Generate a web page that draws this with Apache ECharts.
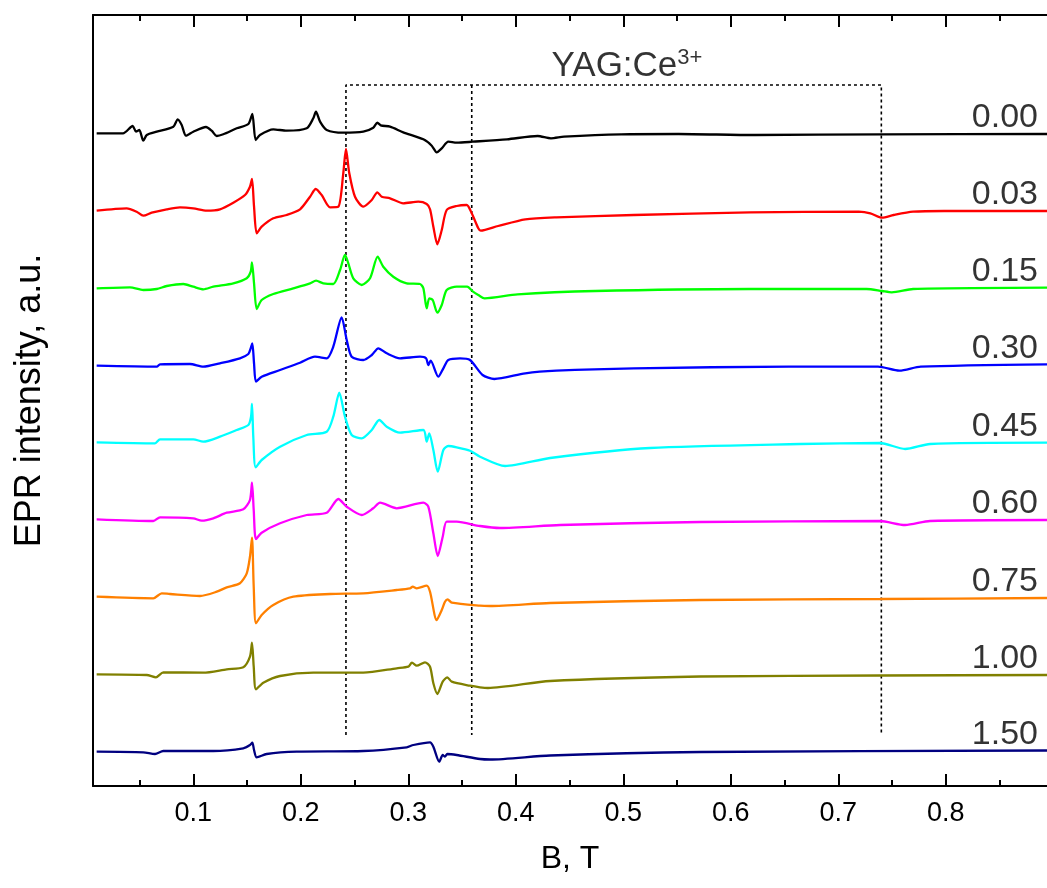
<!DOCTYPE html>
<html>
<head>
<meta charset="utf-8">
<script src="https://cdn.jsdelivr.net/npm/echarts@6/dist/echarts.min.js"></script>
<style>
  html, body { margin: 0; padding: 0; background: #ffffff; }
  #chart { width: 1047px; height: 888px; }
</style>
</head>
<body>
<div id="chart"></div>
<script>
// EPR spectra of YAG:Ce samples, stacked by concentration (B in tesla, intensity in a.u. incl. stacking offset)
const seriesNames = ['0.00', '0.03', '0.15', '0.30', '0.45', '0.60', '0.75', '1.00', '1.50'];
const seriesColors = ['#000000', '#ff0000', '#00ff00', '#0000ff', '#00ffff', '#ff00ff', '#ff8000', '#808000', '#000080'];

const trace000 = [[0.0101,65.27],[0.0346,65.27],[0.0436,66.0],[0.0467,65.43],[0.0498,65.6],[0.0535,64.53],[0.0567,65.1],[0.0660,65.43],[0.0814,65.93],[0.0855,66.67],[0.0892,66.1],[0.0932,65.03],[0.1000,65.43],[0.1118,65.9],[0.1171,65.53],[0.1218,65.0],[0.1279,65.17],[0.1404,65.77],[0.1512,66.2],[0.1549,67.2],[0.1580,64.6],[0.1620,65.1],[0.1744,65.67],[0.1869,65.53],[0.2055,65.77],[0.2116,66.77],[0.2141,67.43],[0.2179,66.43],[0.2241,65.6],[0.2395,65.33],[0.2581,65.43],[0.2674,65.83],[0.2712,66.33],[0.2743,66.07],[0.2830,65.93],[0.2953,65.37],[0.3140,64.67],[0.3218,64.03],[0.3264,63.37],[0.3311,63.77],[0.3372,64.43],[0.3450,64.33],[0.3600,64.43],[0.3918,64.67],[0.4203,65.0],[0.4327,64.77],[0.4448,64.93],[0.4979,65.17],[0.5513,65.2],[0.6221,65.1],[0.7402,65.17],[0.8941,65.2]];

const trace003 = [[0.0101,57.53],[0.0380,57.77],[0.0473,57.43],[0.0535,57.03],[0.0613,57.33],[0.0753,57.67],[0.0876,57.87],[0.1000,57.77],[0.1125,57.53],[0.1248,57.67],[0.1372,58.33],[0.1481,59.1],[0.1527,59.93],[0.1546,60.7],[0.1565,57.93],[0.1590,55.27],[0.1636,55.93],[0.1744,56.77],[0.1869,57.1],[0.1993,57.67],[0.2086,58.93],[0.2139,59.7],[0.2194,59.1],[0.2272,57.87],[0.2349,57.93],[0.2395,61.27],[0.2420,63.7],[0.2451,61.27],[0.2504,58.93],[0.2581,57.93],[0.2660,58.6],[0.2712,59.37],[0.2753,58.93],[0.2830,58.77],[0.2953,58.27],[0.3093,58.43],[0.3171,58.2],[0.3202,57.67],[0.3233,55.93],[0.3270,54.17],[0.3311,55.6],[0.3357,57.6],[0.3450,58.0],[0.3543,58.1],[0.3590,57.27],[0.3651,55.77],[0.3673,55.53],[0.3835,56.0],[0.4088,56.67],[0.4377,56.87],[0.5099,57.1],[0.6179,57.37],[0.7190,57.43],[0.7298,57.27],[0.7407,56.83],[0.7514,57.1],[0.7695,57.43],[0.7983,57.5],[0.8941,57.5]];

const trace015 = [[0.0101,49.77],[0.0411,49.87],[0.0535,49.6],[0.0660,49.7],[0.0753,50.0],[0.0907,50.2],[0.1000,49.93],[0.1093,49.67],[0.1186,49.93],[0.1372,50.27],[0.1497,50.77],[0.1534,51.43],[0.1546,52.37],[0.1565,50.27],[0.1590,47.7],[0.1636,48.6],[0.1744,49.2],[0.1930,49.77],[0.2086,50.27],[0.2142,50.53],[0.2209,50.27],[0.2302,50.2],[0.2365,51.6],[0.2411,53.1],[0.2442,52.27],[0.2488,50.77],[0.2567,50.1],[0.2644,50.77],[0.2715,52.93],[0.2767,51.93],[0.2860,50.93],[0.2985,50.27],[0.3109,50.2],[0.3140,49.77],[0.3171,47.77],[0.3195,48.77],[0.3227,48.6],[0.3270,47.33],[0.3311,48.1],[0.3357,49.6],[0.3450,49.93],[0.3547,49.93],[0.3602,49.43],[0.3651,49.1],[0.3710,48.77],[0.4016,49.17],[0.4737,49.5],[0.6179,49.7],[0.7262,49.7],[0.7407,49.5],[0.7497,49.37],[0.7695,49.7],[0.8941,49.83]];

const trace030 = [[0.0101,42.03],[0.0660,41.93],[0.0690,42.17],[0.0969,42.2],[0.1093,41.93],[0.1248,42.27],[0.1434,42.77],[0.1512,43.2],[0.1534,43.77],[0.1549,44.27],[0.1565,42.27],[0.1583,40.43],[0.1636,40.93],[0.1807,41.6],[0.1993,42.33],[0.2132,42.93],[0.2241,42.77],[0.2302,43.93],[0.2380,46.87],[0.2427,44.6],[0.2473,42.93],[0.2581,42.6],[0.2660,43.1],[0.2721,43.77],[0.2799,43.27],[0.2923,42.77],[0.3109,42.93],[0.3165,42.77],[0.3186,42.1],[0.3208,42.53],[0.3279,40.93],[0.3326,41.77],[0.3372,42.6],[0.3481,42.77],[0.3574,42.6],[0.3691,41.1],[0.3800,40.7],[0.4088,41.27],[0.4377,41.53],[0.5099,41.77],[0.6541,41.93],[0.7369,41.93],[0.7568,41.53],[0.7767,41.93],[0.8941,42.17]];

const trace045 = [[0.0101,34.37],[0.0644,34.27],[0.0690,34.67],[0.1000,34.67],[0.1093,34.43],[0.1248,34.93],[0.1404,35.6],[0.1512,36.1],[0.1537,36.93],[0.1546,38.2],[0.1558,34.93],[0.1580,31.87],[0.1636,32.6],[0.1807,33.93],[0.2055,35.1],[0.2241,35.43],[0.2302,36.93],[0.2358,39.33],[0.2411,36.93],[0.2473,35.1],[0.2567,34.77],[0.2660,35.6],[0.2730,36.6],[0.2799,35.93],[0.2923,35.33],[0.3140,35.6],[0.3171,34.43],[0.3195,35.27],[0.3233,33.6],[0.3274,31.43],[0.3326,33.6],[0.3372,34.0],[0.3450,33.87],[0.3574,33.53],[0.3667,32.93],[0.3900,32.0],[0.4319,32.8],[0.5249,33.8],[0.6644,34.2],[0.7388,34.3],[0.7621,33.7],[0.7853,34.2],[0.8941,34.33]];

const trace060 = [[0.0101,26.67],[0.0628,26.5],[0.0690,26.87],[0.1000,26.77],[0.1078,26.53],[0.1186,26.77],[0.1311,27.33],[0.1465,27.67],[0.1527,28.6],[0.1546,30.33],[0.1562,27.6],[0.1583,24.7],[0.1636,25.33],[0.1807,26.27],[0.2055,27.1],[0.2241,27.33],[0.2349,28.7],[0.2427,27.93],[0.2567,27.1],[0.2674,27.77],[0.2737,28.33],[0.2892,27.77],[0.3140,28.33],[0.3186,27.93],[0.3233,25.27],[0.3274,23.0],[0.3320,24.93],[0.3357,26.43],[0.3450,26.43],[0.3667,26.0],[0.3853,25.8],[0.4412,26.1],[0.5714,26.4],[0.7388,26.5],[0.7621,26.1],[0.7853,26.5],[0.8941,26.6]];

const trace075 = [[0.0101,18.93],[0.0628,18.77],[0.0706,19.27],[0.0783,19.2],[0.1062,19.0],[0.1218,19.43],[0.1311,19.87],[0.1434,20.27],[0.1497,21.27],[0.1527,22.93],[0.1546,24.83],[0.1562,19.93],[0.1583,16.27],[0.1636,17.1],[0.1744,18.1],[0.1930,18.93],[0.2272,19.2],[0.2581,19.27],[0.2892,19.6],[0.3016,19.77],[0.3041,19.93],[0.3078,19.77],[0.3171,20.03],[0.3202,19.43],[0.3264,16.6],[0.3311,17.6],[0.3341,18.43],[0.3366,18.67],[0.3404,18.33],[0.3667,18.03],[0.3760,18.0],[0.4319,18.3],[0.5714,18.6],[0.7388,18.7],[0.8941,18.8]];

const trace100 = [[0.0101,11.17],[0.0567,11.1],[0.0653,10.87],[0.0721,11.37],[0.1093,11.33],[0.1311,11.67],[0.1465,11.87],[0.1527,12.93],[0.1546,14.33],[0.1562,11.93],[0.1583,9.67],[0.1651,10.33],[0.1807,11.0],[0.2116,11.33],[0.2581,11.33],[0.2892,11.77],[0.3000,11.93],[0.3034,12.33],[0.3078,12.03],[0.3155,12.37],[0.3202,11.93],[0.3233,10.27],[0.3270,9.2],[0.3320,10.43],[0.3363,10.87],[0.3404,10.43],[0.3574,10.03],[0.3667,9.87],[0.3741,9.8],[0.4319,10.5],[0.5714,10.95],[0.7388,11.05],[0.8941,11.1]];

const trace150 = [[0.0101,3.43],[0.0535,3.37],[0.0644,3.2],[0.0721,3.5],[0.1186,3.5],[0.1465,3.77],[0.1527,4.1],[0.1549,4.33],[0.1565,3.6],[0.1590,2.87],[0.1683,3.2],[0.1962,3.43],[0.2581,3.5],[0.2985,3.87],[0.3047,4.1],[0.3202,4.37],[0.3233,3.93],[0.3288,2.43],[0.3320,3.1],[0.3341,2.93],[0.3363,3.2],[0.3450,3.1],[0.3667,2.7],[0.3760,2.65],[0.4319,3.05],[0.5714,3.4],[0.8941,3.55]];

const traces = [trace000, trace003, trace015, trace030, trace045, trace060, trace075, trace100, trace150];

// Field window marked for the YAG:Ce3+ signal
const boxFields = [0.242, 0.359, 0.740];
const boxLevels = [5.1, 70.1];          // bottom and top of the dotted frame
const boxTitleAt = [0.5034, 72.0];

// Axis range and ticks
const fieldMin = 0.0067;
const fieldMax = 0.8941;
const intensityMax = 77.1;
const majorTicks = [0.1, 0.2, 0.3, 0.4, 0.5, 0.6, 0.7, 0.8];
const minorTicks = [0.05, 0.15, 0.25, 0.35, 0.45, 0.55, 0.65, 0.75, 0.85];

const FONT = '"Liberation Sans", Arial, sans-serif';

function xAxisDef(position, ticks, length, withLabels, withLine) {
  return {
    type: 'value',
    position: position,
    min: fieldMin,
    max: fieldMax,
    axisLine: { show: withLine, lineStyle: { color: '#000', width: 2 } },
    axisTick: { show: true, inside: true, length: length, customValues: ticks,
                lineStyle: { color: '#000', width: 2 } },
    axisLabel: withLabels
      ? { show: true, customValues: ticks, color: '#000', fontSize: 27, fontFamily: FONT, margin: 14,
          formatter: v => String(Math.round(v * 10) / 10) }
      : { show: false },
    splitLine: { show: false },
    minorTick: { show: false },
    minorSplitLine: { show: false }
  };
}

const xAxes = [
  xAxisDef('bottom', majorTicks, 12, true, true),
  xAxisDef('bottom', minorTicks, 6, false, false),
  xAxisDef('top', majorTicks, 12, false, true),
  xAxisDef('top', minorTicks, 6, false, false)
];
Object.assign(xAxes[0], {
  name: 'B, T', nameLocation: 'middle', nameGap: 57,
  nameTextStyle: { color: '#000', fontSize: 32, fontFamily: FONT }
});

const series = [];
traces.forEach((t, i) => {
  series.push({
    name: seriesNames[i],
    type: 'line',
    xAxisIndex: 0,
    data: t,
    symbol: 'none',
    smooth: 0.25,
    lineStyle: { color: seriesColors[i], width: 2.3 },
    emphasis: { disabled: true },
    animation: false,
    z: 3
  });
});

// Concentration labels above the right end of every trace
series.push({
  type: 'scatter',
  xAxisIndex: 0,
  symbolSize: 0,
  data: traces.map((t, i) => ({ value: t[t.length - 1], name: seriesNames[i] })),
  label: {
    show: true, position: 'top', align: 'right', distance: -1, offset: [-9, 0],
    formatter: p => p.name, color: '#000', fontSize: 34, fontFamily: FONT
  },
  emphasis: { disabled: true },
  animation: false,
  z: 4
});

// Dotted frame around the YAG:Ce3+ region
const dotted = { color: '#000', width: 1.6, type: [3, 3] };
series.push({
  type: 'line', xAxisIndex: 0, symbol: 'none', animation: false, z: 2,
  lineStyle: dotted, emphasis: { disabled: true },
  data: [[boxFields[0], boxLevels[0]], [boxFields[0], boxLevels[1]],
         [boxFields[2], boxLevels[1]], [boxFields[2], boxLevels[0]]]
});
series.push({
  type: 'line', xAxisIndex: 0, symbol: 'none', animation: false, z: 2,
  lineStyle: dotted, emphasis: { disabled: true },
  data: [[boxFields[1], boxLevels[1]], [boxFields[1], boxLevels[0]]]
});
series.push({
  type: 'scatter', xAxisIndex: 0, symbolSize: 0, animation: false, z: 4,
  emphasis: { disabled: true },
  data: [boxTitleAt],
  label: {
    show: true, position: 'inside', color: '#000', fontFamily: FONT,
    formatter: '{m|YAG:Ce}{s|3+}',
    rich: {
      m: { fontSize: 35, fontFamily: FONT, color: '#000', lineHeight: 38 },
      s: { fontSize: 22, fontFamily: FONT, color: '#000', verticalAlign: 'top', lineHeight: 38, padding: [0, 0, 16, 0] }
    }
  }
});

const chart = echarts.init(document.getElementById('chart'), null, { renderer: 'canvas' });
chart.setOption({
  backgroundColor: '#ffffff',
  animation: false,
  grid: { left: 93, right: 0, top: 15, bottom: 102, containLabel: false },
  xAxis: xAxes,
  yAxis: {
    type: 'value', min: 0, max: intensityMax, position: 'left',
    axisLine: { show: true, lineStyle: { color: '#000', width: 2 } },
    axisTick: { show: false }, axisLabel: { show: false }, splitLine: { show: false },
    name: 'EPR intensity, a.u.', nameLocation: 'middle', nameGap: 45,
    nameTextStyle: { color: '#000', fontSize: 36, fontFamily: FONT }
  },
  series: series
});
</script>
</body>
</html>
